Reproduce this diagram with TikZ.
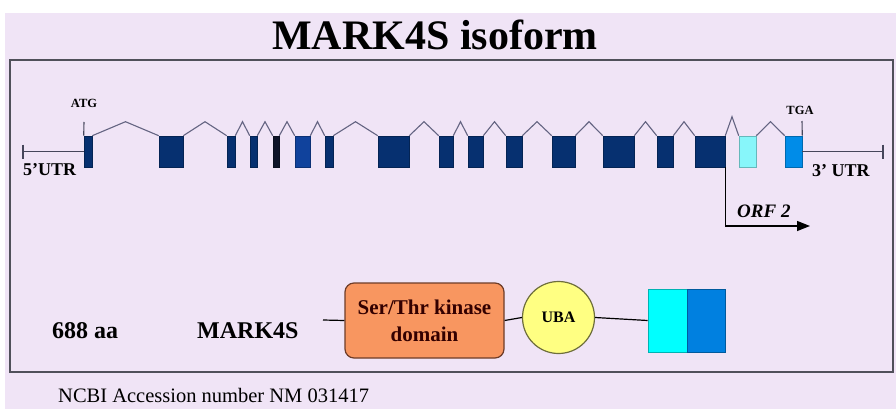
\documentclass[tikz,border=0pt]{standalone}
\usepackage{fontspec}
\setmainfont{Liberation Serif}
\usetikzlibrary{calc,arrows.meta}
\definecolor{bg}{RGB}{240,228,246}
\definecolor{navy}{RGB}{6,48,112}
\definecolor{exblack}{RGB}{14,20,40}
\definecolor{exblue}{RGB}{16,66,156}
\definecolor{excyan}{RGB}{135,246,250}
\definecolor{exsky}{RGB}{0,140,232}
\definecolor{introncol}{RGB}{100,100,130}
\definecolor{kinfill}{RGB}{248,150,96}
\definecolor{kinedge}{RGB}{110,60,40}
\definecolor{ubafill}{RGB}{255,255,130}
\definecolor{ubaedge}{RGB}{110,110,60}
\definecolor{boxedge}{RGB}{80,80,90}
\definecolor{cyanbox}{RGB}{0,255,255}
\definecolor{bluebox}{RGB}{0,128,224}
\begin{document}
\begin{tikzpicture}[x=1pt,y=-1pt,
  exon/.style={draw=#1!75!black, fill=#1, inner sep=0pt, minimum height=31pt, line width=0.6pt},
  intronline/.style={draw=introncol, line width=1.1pt},
  utrline/.style={draw=introncol!70!black, line width=1.1pt},
  lbl/.style={inner sep=0pt, anchor=base, font=\bfseries},
  protline/.style={draw=black, line width=1.2pt}]
\useasboundingbox (0,0) rectangle (896,409);
\fill[white] (0,0) rectangle (896,409);
\fill[bg] (5,13) rectangle (896,409);
\draw[boxedge, line width=1.6pt] (10,60) rectangle (893,372);
\node[lbl, font=\fontsize{42}{42}\selectfont\bfseries] (title) at (435,50) {MARK4S isoform};
% exons
\foreach \a/\b/\c [count=\i] in {84/92/navy, 159/183/navy, 227/235/navy, 250/257/navy,
   273/279/exblack, 295/310/exblue, 325/333/navy, 378/409/navy, 439/453/navy,
   468/483/navy, 506/522/navy, 552/575/navy, 603/634/navy, 657/673/navy,
   695/725/navy, 739/756/excyan, 785/802/exsky} {
  \pgfmathsetmacro\w{\b-\a}
  \pgfmathsetmacro\cx{(\a+\b)/2}
  \node[exon=\c, minimum width=\w pt] (e\i) at (\cx,151.5) {};
}
% introns
\foreach \i/\h in {1/14,2/14,3/14,4/14,5/14,6/14,7/14,8/14,9/14,10/14,11/14,12/14,13/14,14/14,15/19,16/14} {
  \pgfmathtruncatemacro\j{\i+1}
  \draw[intronline] (e\i.north east) -- ($(e\i.north east)!0.5!(e\j.north west)+(0,-\h)$) -- (e\j.north west);
}
% UTRs
\coordinate (u5) at (23,151.5);
\coordinate (u3) at (883,151.5);
\draw[utrline] (u5) -- (e1.west);
\draw[utrline] ($(u5)+(0,-7)$) -- ($(u5)+(0,7)$);
\draw[utrline] (e17.east) -- (u3);
\draw[utrline] ($(u3)+(0,-7)$) -- ($(u3)+(0,7)$);
\node[lbl, anchor=base west, font=\fontsize{18}{18}\selectfont\bfseries] (utr5) at (23,175) {5'UTR};
\node[lbl, anchor=base west, font=\fontsize{18}{18}\selectfont\bfseries] (utr3) at (812,176) {3' UTR};
% ATG / TGA
\coordinate (atgtop) at (84,122);
\draw[utrline] (e1.north west) -- (atgtop);
\node[lbl, font=\fontsize{12.5}{12.5}\selectfont\bfseries] (atg) at (84,107) {ATG};
\coordinate (tgatop) at (802,121);
\draw[utrline] (e17.north east) -- (tgatop);
\node[lbl, font=\fontsize{12.5}{12.5}\selectfont\bfseries] (tga) at (800,114) {TGA};
% ORF 2
\coordinate (orfend) at (810,226);
\draw[line width=1.4pt, -{Triangle[length=13pt,width=10pt]}] (e15.south east) |- (orfend);
\node[lbl, anchor=base west, font=\fontsize{19}{19}\selectfont\bfseries\itshape] (orf) at (737,217) {ORF 2};
% protein
\node[lbl, anchor=base west, font=\fontsize{24}{24}\selectfont\bfseries] (aa) at (52,338) {688 aa};
\node[lbl, anchor=base west, font=\fontsize{24}{24}\selectfont\bfseries] (mk) at (197,338) {MARK4S};
\node[draw=kinedge, fill=kinfill, line width=1.2pt, rounded corners=9pt, minimum width=159pt, minimum height=75pt,
  align=center, font=\fontsize{21}{27}\selectfont\bfseries, text=black!80!red] (kin) at (424.5,320.5) {Ser/Thr kinase\\domain};
\node[circle, draw=ubaedge, fill=ubafill, line width=1.2pt, minimum size=72pt, inner sep=0pt,
  font=\fontsize{16}{16}\selectfont\bfseries] (uba) at (558.5,317.5) {UBA};
\node[fill=cyanbox, draw=cyanbox!70!black, line width=0.8pt, minimum width=39pt, minimum height=63pt, inner sep=0pt] (cy) at (667.5,320.5) {};
\node[fill=bluebox, draw=bluebox!70!black, line width=0.8pt, minimum width=38pt, minimum height=63pt, inner sep=0pt] (bl) at (706,320.5) {};
\coordinate (pstart) at (323,320);
\draw[protline] (pstart) -- (kin.west);
\draw[protline] (kin.east) -- (uba.west);
\draw[protline] (uba.east) -- (cy.west);
\node[lbl, anchor=base west, font=\fontsize{20.5}{20.5}\selectfont] (ncbi) at (58,402) {NCBI Accession number NM 031417};
\end{tikzpicture}
\end{document}
